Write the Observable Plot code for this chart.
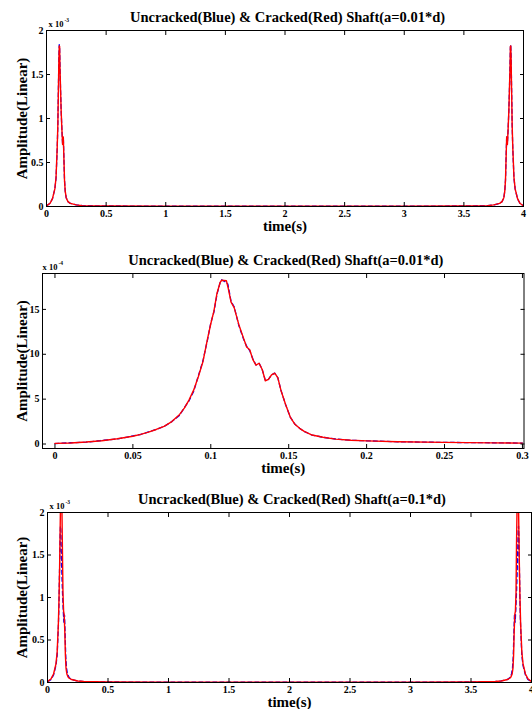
<!DOCTYPE html>
<html><head><meta charset="utf-8">
<script src="https://cdn.jsdelivr.net/npm/d3@7"></script>
<script src="https://cdn.jsdelivr.net/npm/@observablehq/plot@0.6"></script>
<style>
body{margin:0;background:#fff;}
#wrap{position:relative;width:532px;height:709px;overflow:hidden;background:#fff;}
#wrap svg{position:absolute;left:0;}
</style></head><body><div id="wrap"></div>
<script>
// ---------- Panel 1 & 3: full record 0..4 s, amplitude x 10^-3 ----------
const t1 = [0,0.03,0.05,0.07,0.08,0.09,0.095,0.1,0.104,0.107,0.11,0.113,0.118,0.123,0.129,0.135,0.141,0.145,0.151,0.157,0.165,0.18,0.2,0.25,0.3,0.5,1,1.5,2,2.5,3,3.5,3.7,3.75,3.8,3.82,3.835,3.843,3.849,3.855,3.859,3.865,3.871,3.877,3.882,3.887,3.89,3.893,3.896,3.9,3.905,3.91,3.92,3.93,3.95,3.97,4];
const uncracked1 = [0.007,0.036,0.088,0.2,0.32,0.66,0.93,1.36,1.7,1.84,1.8,1.6,1.32,1.09,0.88,0.71,0.79,0.6,0.3,0.175,0.1,0.055,0.035,0.018,0.01,0.006,0.004,0.003,0.003,0.003,0.004,0.006,0.01,0.018,0.035,0.055,0.1,0.175,0.3,0.6,0.79,0.71,0.88,1.09,1.32,1.6,1.8,1.84,1.7,1.36,0.93,0.66,0.32,0.2,0.088,0.036,0.007];
const cracked1 = [0.007,0.037,0.09,0.2,0.33,0.68,0.92,1.34,1.68,1.825,1.82,1.58,1.33,1.08,0.88,0.705,0.79,0.6,0.3,0.175,0.1,0.055,0.035,0.018,0.01,0.006,0.004,0.003,0.003,0.003,0.004,0.006,0.01,0.018,0.035,0.055,0.1,0.175,0.3,0.6,0.79,0.705,0.88,1.08,1.33,1.58,1.82,1.825,1.68,1.34,0.92,0.68,0.33,0.2,0.09,0.037,0.007];

const t3 = [0,0.03,0.05,0.07,0.08,0.09,0.095,0.1,0.104,0.108,0.111,0.114,0.118,0.123,0.128,0.133,0.138,0.143,0.148,0.153,0.16,0.17,0.18,0.2,0.25,0.3,0.5,1,1.5,2,2.5,3,3.5,3.7,3.75,3.8,3.82,3.83,3.84,3.847,3.852,3.857,3.862,3.867,3.872,3.876,3.882,3.886,3.889,3.892,3.896,3.9,3.905,3.91,3.92,3.93,3.95,3.97,4];
const cracked3 = [0.01,0.045,0.1,0.22,0.36,0.7,0.98,1.35,1.75,2.15,2.4,2.45,2.2,1.6,1.05,0.84,0.8,0.6,0.32,0.17,0.1,0.065,0.05,0.035,0.018,0.011,0.006,0.004,0.003,0.003,0.003,0.004,0.006,0.011,0.018,0.035,0.05,0.065,0.1,0.17,0.32,0.6,0.8,0.84,1.05,1.6,2.2,2.45,2.4,2.15,1.75,1.35,0.98,0.7,0.36,0.22,0.1,0.045,0.01];

// ---------- Panel 2: zoom 0..0.3 s, amplitude x 10^-4 ----------
const t2 = [0,0.01,0.02,0.03,0.04,0.05,0.055,0.06,0.065,0.07,0.075,0.08,0.083,0.086,0.089,0.092,0.095,0.098,0.1,0.102,0.104,0.106,0.107,0.11,0.111,0.113,0.115,0.118,0.121,0.123,0.125,0.127,0.129,0.131,0.133,0.135,0.137,0.139,0.141,0.143,0.145,0.148,0.151,0.154,0.157,0.16,0.165,0.172,0.18,0.19,0.2,0.22,0.25,0.28,0.3];
const uncracked2 = [0.05,0.14,0.2,0.4,0.56,0.9,1.06,1.35,1.64,1.95,2.5,3.2,4.05,4.8,5.85,7.6,9.3,11.7,13.5,14.7,16.7,18.0,18.3,18.0,17.8,15.9,15.3,13.2,11.7,10.9,10.4,9.5,8.8,9.0,8.3,7.1,7.2,7.7,7.9,7.4,6.0,4.4,3.0,2.2,1.75,1.4,1.0,0.75,0.56,0.42,0.36,0.25,0.18,0.14,0.1];
const cracked2 = [0.07,0.12,0.22,0.37,0.58,0.86,1.08,1.33,1.62,1.97,2.5,3.3,4.0,4.9,6.0,7.5,9.2,11.8,13.4,14.8,16.8,18.0,18.25,18.2,17.5,15.8,15.2,13.3,11.8,10.8,10.5,9.4,8.8,9.0,8.3,7.05,7.2,7.7,7.9,7.4,6.0,4.4,3.0,2.2,1.75,1.4,1.0,0.75,0.55,0.42,0.35,0.26,0.18,0.13,0.1];

// ---------- Axis ticks & texts ----------
const ticksX4 = [0,0.5,1,1.5,2,2.5,3,3.5,4];
const ticksY2 = [0,0.5,1,1.5,2];
const ticksX03 = [0,0.05,0.1,0.15,0.2,0.25,0.3];
const ticksY20 = [0,5,10,15];
const titles = ["Uncracked(Blue) & Cracked(Red) Shaft(a=0.01*d)","Uncracked(Blue) & Cracked(Red) Shaft(a=0.01*d)","Uncracked(Blue) & Cracked(Red) Shaft(a=0.1*d)"];
const exponents = ["-3","-4","-3"];
const xLabel = "time(s)";
const yLabel = "Amplitude(Linear)";

const FONT = "'Liberation Serif','Times New Roman',Times,serif";
const fmt = d => String(d);

function panel(o) {
  const blue = o.tB.map((t, i) => ({t, v: o.vB[i]}));
  const red = o.tR.map((t, i) => ({t, v: o.vR[i]}));
  const svg = Plot.plot({
    width: 532, height: o.height,
    marginTop: o.mt, marginBottom: o.mb, marginLeft: o.ml, marginRight: o.mr,
    style: {fontFamily: FONT, fontWeight: "bold", background: "transparent", color: "black", overflow: "visible"},
    x: {domain: o.xDomain},
    y: {domain: o.yDomain},
    marks: [
      Plot.line(blue, {x: "t", y: "v", stroke: "#0000ff", strokeWidth: 1.3, strokeDasharray: "4,3", clip: true}),
      Plot.line(red, {x: "t", y: "v", stroke: "#ff0000", strokeWidth: 1.4, clip: true}),
      Plot.frame({stroke: "black", strokeWidth: 1}),
      Plot.axisX(o.xTicks, {anchor: "bottom", tickSize: -4, text: null, label: null}),
      Plot.axisX(o.xTicks, {anchor: "top", tickSize: -4, text: null, label: null}),
      Plot.axisY(o.yTicks, {anchor: "left", tickSize: -4, text: null, label: null}),
      Plot.axisY(o.yTicks, {anchor: "right", tickSize: -4, text: null, label: null}),
      Plot.axisX(o.xTicks, {anchor: "bottom", tickSize: 0, tickPadding: 3, tickFormat: fmt, fontSize: 10, fontWeight: "bold", label: null}),
      Plot.axisY(o.yTicks, {anchor: "left", tickSize: 0, tickPadding: 3, tickFormat: fmt, fontSize: 10, fontWeight: "bold", label: null}),
      Plot.text([o.title], {frameAnchor: "top", dx: 2.5, dy: -13, textAnchor: "middle", lineAnchor: "middle", fontSize: 14.5, fontWeight: "bold"}),
      Plot.text([xLabel], {frameAnchor: "bottom", dy: 20, textAnchor: "middle", lineAnchor: "middle", fontSize: 15, fontWeight: "bold"}),
      Plot.text([yLabel], {frameAnchor: "left", dx: o.yLabelDx, rotate: -90, textAnchor: "middle", lineAnchor: "middle", fontSize: 15, fontWeight: "bold"}),
      Plot.text(["x 10"], {frameAnchor: "top-left", dx: o.expDx, dy: -6.5, textAnchor: "start", lineAnchor: "middle", fontSize: 8.5, fontWeight: "bold"}),
      Plot.text([o.exp], {frameAnchor: "top-left", dx: o.expDx + 16, dy: -10, textAnchor: "start", lineAnchor: "middle", fontSize: 5.5, fontWeight: "bold"})
    ]
  });
  svg.style.top = o.top + "px";
  document.getElementById("wrap").appendChild(svg);
}

panel({top: 0, height: 235, mt: 30, mb: 29, ml: 46, mr: 9,
  xDomain: [0, 4], yDomain: [0, 2], xTicks: ticksX4, yTicks: ticksY2,
  title: titles[0], exp: exponents[0], yLabelDx: -24, expDx: 2,
  tB: t1, vB: uncracked1, tR: t1, vR: cracked1});

panel({top: 240, height: 240, mt: 33, mb: 32, ml: 42, mr: 8.5,
  xDomain: [-0.008, 0.301], yDomain: [-0.5, 19], xTicks: ticksX03, yTicks: ticksY20,
  title: titles[1], exp: exponents[1], yLabelDx: -20, expDx: 0,
  tB: t2, vB: uncracked2, tR: t2, vR: cracked2});

panel({top: 480, height: 229, mt: 32, mb: 27, ml: 47, mr: 1,
  xDomain: [0, 4], yDomain: [0, 2], xTicks: ticksX4, yTicks: ticksY2,
  title: titles[2], exp: exponents[2], yLabelDx: -25, expDx: 2,
  tB: t1, vB: uncracked1, tR: t3, vR: cracked3});
</script></body></html>
